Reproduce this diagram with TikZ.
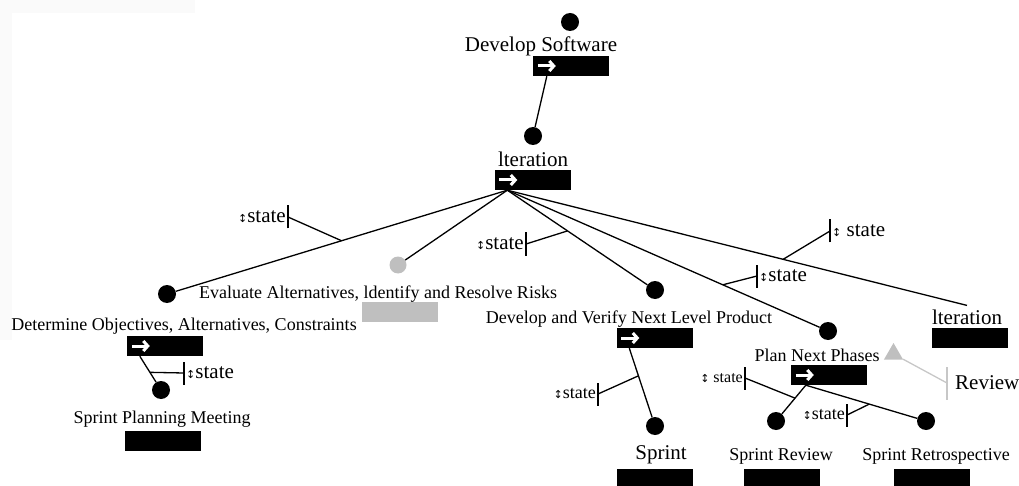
\documentclass[tikz,border=0pt]{standalone}
\usepackage{fontspec}
\setmainfont{Liberation Serif}
\newfontfamily\symfont{DejaVu Sans}
\usetikzlibrary{arrows.meta,shapes.geometric}

\newcommand{\updown}{{\symfont\fontsize{11}{11}\selectfont ↕}}

\tikzset{
  dot/.style={circle,fill=black,inner sep=0pt,minimum size=18pt},
  gdot/.style={circle,fill=black!25,inner sep=0pt,minimum size=17pt},
  big/.style={font=\fontsize{21}{24}\selectfont,inner sep=0pt},
  mid/.style={font=\fontsize{18}{21}\selectfont,inner sep=0pt},
  bar/.style={fill=black,inner sep=0pt,minimum width=76pt,minimum height=20pt},
  gbar/.style={bar,fill=black!25},
  link/.style={line width=1.3pt},
  glink/.style={line width=1.3pt,draw=black!22},
  tick/.style={line width=1.1pt},
  slabel/.style={font=\fontsize{21}{23}\selectfont,inner sep=1pt},
  mslabel/.style={font=\fontsize{18}{20}\selectfont,inner sep=1pt},
  sslabel/.style={font=\fontsize{16}{18}\selectfont,inner sep=1pt},
  barrow/.style={white,line width=3pt,-{Straight Barb[length=4.5pt,width=10pt]}}
}

\begin{document}
\begin{tikzpicture}[x=1pt,y=-1pt]
\useasboundingbox (0,0) rectangle (1019,486);
% faint frame shadow
\fill[black!2] (0,0) rectangle (195,13);
\fill[black!2] (0,13) rectangle (12,340);

% --- nodes ---
\node[dot] (dsd) at (570,22) {};
\node[big] (dst) at (541,46) {Develop Software};
\node[bar] (dsb) at (571,66) {};

\node[dot] (itd) at (533,136) {};
\node[big] (itt) at (533,159) {lteration};
\node[bar] (itb) at (532.5,180) {};

\node[dot] (detd) at (167,294) {};
\node[mid] (dett) at (184,326) {Determine Objectives, Alternatives, Constraints};
\node[bar] (detb) at (165,346) {};

\node[gdot] (evd) at (398,265) {};
\node[mid] (evt) at (378,294) {Evaluate Alternatives, ldentify and Resolve Risks};
\node[gbar] (evb) at (399.5,312) {};

\node[dot] (dvd) at (655,290) {};
\node[mid] (dvt) at (629,319) {Develop and Verify Next Level Product};
\node[bar] (dvb) at (654.5,338) {};

\node[dot] (pld) at (828,331) {};
\node[mid] (plt) at (817,355) {Plan Next Phases};
\node[bar] (plb) at (829,375) {};

\node[big] (it2t) at (967,317) {lteration};
\node[bar] (it2b) at (970,338) {};

\node[dot] (spmd) at (161,390) {};
\node[mid] (spmt) at (162,419) {Sprint Planning Meeting};
\node[bar] (spmb) at (162.5,441) {};

\node[dot] (spd) at (655,426) {};
\node[big] (spt) at (661,455) {Sprint};
\node[bar] (spb) at (654.5,479) {};

\node[dot] (srd) at (776,421) {};
\node[mid] (srt) at (781,456) {Sprint Review};
\node[bar] (srb) at (781.5,479) {};

\node[dot] (rtd) at (926,421) {};
\node[mid] (rtt) at (936,456) {Sprint Retrospective};
\node[bar] (rtb) at (931.5,479) {};

\node[regular polygon,regular polygon sides=3,fill=black!25,inner sep=0pt,minimum size=22pt] (tri) at (893.5,354) {};

% white arrows on the bars
\foreach \b in {dsb,itb,detb,dvb,plb}
  \draw[barrow] ([xshift=5pt]\b.west) -- ++(18,0);

% --- connectors ---
\coordinate (o) at ([xshift=13pt]itb.south west);
\draw[link] ([xshift=14pt]dsb.south west) -- (itd);
\draw[link] (o) -- (detd) coordinate[pos=0.5] (j1);
\draw[link] (o) -- (evd);
\draw[link] (o) -- (dvd) coordinate[pos=0.43] (j2);
\draw[link] (o) -- (pld) coordinate[pos=0.69] (j3);
\draw[link] (o) -- ([yshift=4pt]it2t.north) coordinate[pos=0.6] (j4);
\draw[link] ([xshift=13pt]detb.south west) -- (spmd) coordinate[pos=0.62] (j5);
\draw[link] ([xshift=13pt]dvb.south west) -- (spd) coordinate[pos=0.4] (j6);
\coordinate (po) at ([xshift=15pt]plb.south west);
\draw[link] (po) -- (srd) coordinate[pos=0.45] (j7);
\draw[link] (po) -- (rtd) coordinate[pos=0.57] (j8);

% --- state markers ---
\coordinate (s1) at (288,217);
\coordinate (s2) at (526,244);
\coordinate (s3) at (757,276);
\coordinate (s4) at (830,231);
\coordinate (s5) at (184,373);
\coordinate (s6) at (598,394);
\coordinate (s7) at (745,378);
\coordinate (s8) at (847,415);
\foreach \j/\s in {j1/s1,j2/s2,j3/s3,j4/s4,j5/s5,j6/s6,j7/s7,j8/s8}{
  \draw[link] (\j) -- (\s);
  \draw[tick] ([yshift=-11.5pt]\s) -- ([yshift=11.5pt]\s);
}
\node[slabel,anchor=east] (l1) at ([xshift=-1pt]s1) {\updown state};
\node[slabel,anchor=east] (l2) at ([xshift=-1pt]s2) {\updown state};
\node[slabel,anchor=west] (l3) at ([xshift=1pt]s3) {\updown state};
\node[slabel,anchor=west] (l4) at ([xshift=1pt]s4) {\updown{} state};
\node[slabel,anchor=west] (l5) at ([xshift=1pt]s5) {\updown state};
\node[mslabel,anchor=east] (l6) at ([xshift=-1pt]s6) {\updown state};
\node[sslabel,anchor=east] (l7) at ([xshift=-1pt]s7) {\updown{} state};
\node[mslabel,anchor=east] (l8) at ([xshift=-1pt]s8) {\updown state};

% --- review marker ---
\coordinate (s9) at (947,383);
\draw[glink] (tri) -- (s9);
\draw[glink,line width=1.1pt] ([yshift=16pt]s9) -- ([yshift=-17pt]s9);
\node[big,anchor=west] (rvt) at ([xshift=8pt]s9) {Review};
\end{tikzpicture}
\end{document}
